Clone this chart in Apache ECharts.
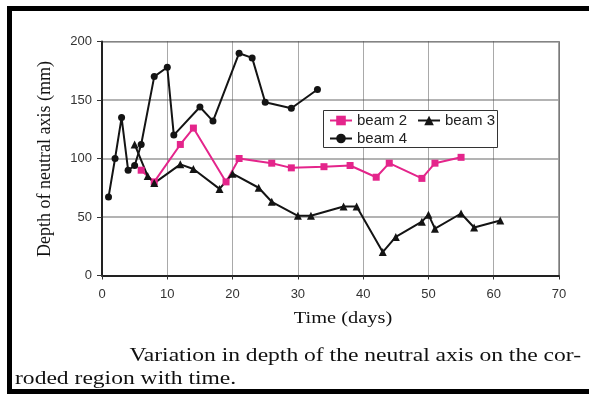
<!DOCTYPE html>
<html>
<head>
<meta charset="utf-8">
<script src="https://cdn.jsdelivr.net/npm/echarts@6/dist/echarts.min.js"></script>
<style>
  html, body { margin: 0; padding: 0; background: #fff; }
  #chart { width: 589px; height: 398px; }
</style>
</head>
<body>
<div id="chart"></div>
<script>
// Neutral-axis depth (mm) measured over time (days) for three beams
const beam2Days  = [6, 8, 12, 14, 19, 21, 26, 29, 34, 38, 42, 44, 49, 51, 55];
const beam2Depth = [90, 80, 112, 126, 80, 100, 96, 92, 93, 94, 84, 96, 83, 96, 101];

const beam3Days  = [5, 7, 8, 12, 14, 18, 20, 24, 26, 30, 32, 37, 39, 43, 45, 49, 50, 51, 55, 57, 61];
const beam3Depth = [112, 85, 79, 95, 91, 74, 87, 75, 63, 51, 51, 59, 59, 20, 33, 46, 52, 40, 53, 41, 47];

const beam4Days  = [1, 2, 3, 4, 5, 6, 8, 10, 11, 15, 17, 21, 23, 25, 29, 33];
const beam4Depth = [67, 100, 135, 90, 94, 112, 170, 178, 120, 144, 132, 190, 186, 148, 143, 159];

const xTicks = { min: 0, max: 70, step: 10 };
const yTicks = { min: 0, max: 200, step: 50 };

const pairs = (xs, ys) => xs.map((x, i) => [x, ys[i]]);

const PINK = '#e4258b';
const INK = '#141414';
const SERIF = '"Liberation Serif", "DejaVu Serif", serif';
const SANS = '"Liberation Sans", Arial, sans-serif';

const chart = echarts.init(document.getElementById('chart'), null, { renderer: 'canvas' });

const legendText = { fontFamily: SANS, fontSize: 15, color: '#222' };

chart.setOption({
  backgroundColor: '#fff',
  animation: false,
  grid: {
    left: 102, top: 41.5, right: 30, bottom: 122.5,
    show: true, borderColor: '#444', borderWidth: 1
  },
  xAxis: {
    type: 'value', min: xTicks.min, max: xTicks.max, interval: xTicks.step,
    axisLine: { show: true, onZero: false, lineStyle: { color: '#222', width: 2 } },
    axisTick: { show: true, inside: false, length: 4, lineStyle: { color: '#333' } },
    axisLabel: { margin: 12, fontFamily: SANS, fontSize: 13, color: '#333' },
    splitLine: { show: true, lineStyle: { color: '#555', width: 1, type: [1, 1] } }
  },
  yAxis: {
    type: 'value', min: yTicks.min, max: yTicks.max, interval: yTicks.step,
    axisLine: { show: true, onZero: false, lineStyle: { color: '#222', width: 2 } },
    axisTick: { show: true, inside: false, length: 5, lineStyle: { color: '#333' } },
    axisLabel: { margin: 10, fontFamily: SANS, fontSize: 13, color: '#333' },
    splitLine: { show: true, lineStyle: { color: '#9a9a9a', width: 1.5 } }
  },
  legend: [
    {
      data: ['beam 2', 'beam 3'], left: 329, top: 113, padding: 0,
      itemWidth: 22, itemHeight: 12, itemGap: 10, textStyle: legendText
    },
    {
      data: ['beam 4'], left: 329, top: 131, padding: 0,
      itemWidth: 22, itemHeight: 12, textStyle: legendText
    }
  ],
  series: [
    {
      name: 'beam 2', type: 'line', data: pairs(beam2Days, beam2Depth),
      symbol: 'rect', symbolSize: 7,
      lineStyle: { color: PINK, width: 2 }, itemStyle: { color: PINK }
    },
    {
      name: 'beam 3', type: 'line', data: pairs(beam3Days, beam3Depth),
      symbol: 'triangle', symbolSize: 8,
      lineStyle: { color: INK, width: 2 }, itemStyle: { color: INK }
    },
    {
      name: 'beam 4', type: 'line', data: pairs(beam4Days, beam4Depth),
      symbol: 'circle', symbolSize: 7,
      lineStyle: { color: INK, width: 2 }, itemStyle: { color: INK }
    }
  ],
  graphic: [
    // legend frame
    { type: 'rect', z: 3, shape: { x: 323.5, y: 110.5, width: 174, height: 37 },
      style: { fill: '#fff', stroke: '#333', lineWidth: 1 } },
    // axis titles
    { type: 'text', x: 45, y: 159, rotation: Math.PI / 2,
      style: { text: 'Depth of neutral axis (mm)', font: '18px ' + SERIF, fill: '#111',
               textAlign: 'center', textVerticalAlign: 'middle' } },
    { type: 'text', x: 343, y: 319, scaleX: 1.2,
      style: { text: 'Time (days)', font: '17px ' + SERIF, fill: '#111',
               textAlign: 'center', textVerticalAlign: 'middle' } },
    // caption
    { type: 'text', x: 581, y: 356, scaleX: 1.24,
      style: { text: 'Variation in depth of the neutral axis on the cor-', font: '19px ' + SERIF,
               fill: '#111', textAlign: 'right', textVerticalAlign: 'middle' } },
    { type: 'text', x: 15, y: 379, scaleX: 1.24,
      style: { text: 'roded region with time.', font: '19px ' + SERIF,
               fill: '#111', textAlign: 'left', textVerticalAlign: 'middle' } },
    // page frame
    { type: 'rect', shape: { x: 8, y: 6, width: 590, height: 5 }, style: { fill: '#000' } },
    { type: 'rect', shape: { x: 7, y: 6, width: 5, height: 388 }, style: { fill: '#000' } },
    { type: 'rect', shape: { x: 7, y: 389, width: 590, height: 5 }, style: { fill: '#000' } }
  ]
});
</script>
</body>
</html>
